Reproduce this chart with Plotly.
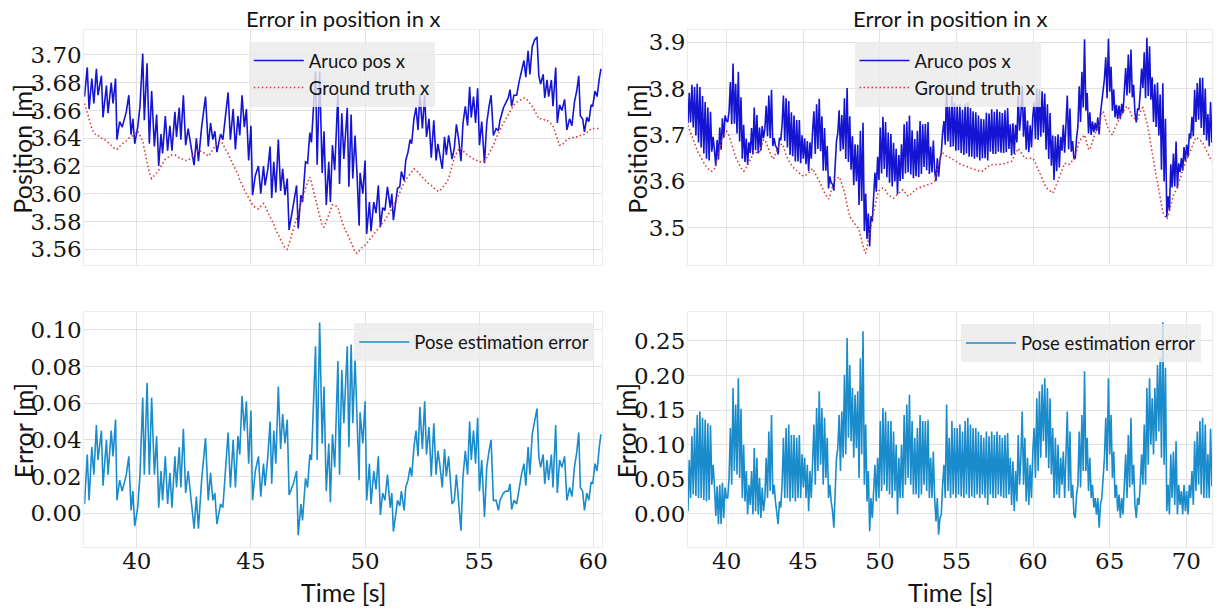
import plotly.graph_objects as go

# ---------------- Run 1 (left column) ----------------
time_left = [
    37.71, 37.83, 37.91, 38.03, 38.12, 38.23, 38.30, 38.45, 38.52, 38.67,
    38.74, 38.88, 38.96, 39.07, 39.13, 39.25, 39.36, 39.54, 39.65, 39.75,
    39.83, 39.91, 40.04, 40.14, 40.26, 40.33, 40.45, 40.55, 40.65, 40.77,
    40.87, 40.96, 41.06, 41.13, 41.25, 41.35, 41.45, 41.54, 41.67, 41.74,
    41.86, 41.93, 42.04, 42.14, 42.25, 42.36, 42.51, 42.61, 42.70, 42.84,
    43.01, 43.13, 43.23, 43.33, 43.42, 43.51, 43.67, 43.77, 43.88, 44.00,
    44.10, 44.22, 44.32, 44.43, 44.51, 44.61, 44.71, 44.80, 44.90, 45.00,
    45.07, 45.19, 45.33, 45.43, 45.55, 45.62, 45.74, 45.84, 45.91, 46.00,
    46.09, 46.20, 46.30, 46.39, 46.49, 46.59, 46.67, 46.86, 47.00, 47.07,
    47.19, 47.26, 47.39, 47.48, 47.58, 47.65, 47.83, 47.90, 48.01, 48.12,
    48.20, 48.30, 48.41, 48.48, 48.57, 48.67, 48.81, 48.88, 48.98, 49.07,
    49.22, 49.29, 49.39, 49.46, 49.56, 49.65, 49.74, 49.78, 49.90, 50.00,
    50.07, 50.19, 50.26, 50.38, 50.48, 50.58, 50.67, 50.77, 50.87, 50.98,
    51.10, 51.17, 51.24, 51.35, 51.42, 51.52, 51.59, 51.71, 51.78, 51.88,
    51.97, 52.04, 52.14, 52.23, 52.32, 52.40, 52.51, 52.61, 52.69, 52.80,
    52.90, 53.01, 53.11, 53.19, 53.27, 53.38, 53.48, 53.56, 53.66, 53.81,
    53.91, 54.00, 54.10, 54.20, 54.29, 54.39, 54.49, 54.58, 54.65, 54.75,
    54.84, 54.93, 55.01, 55.11, 55.23, 55.33, 55.43, 55.52, 55.62, 55.74,
    55.84, 55.91, 56.06, 56.17, 56.27, 56.35, 56.42, 56.52, 56.64, 56.75,
    56.85, 56.96, 57.04, 57.14, 57.22, 57.32, 57.43, 57.53, 57.61, 57.69,
    57.80, 57.87, 57.97, 58.04, 58.16, 58.23, 58.35, 58.42, 58.52, 58.62,
    58.74, 58.84, 58.96, 59.06, 59.17, 59.27, 59.36, 59.43, 59.53, 59.61,
    59.71, 59.80, 59.90, 59.97, 60.07, 60.16, 60.26, 60.33,
]

error_left = [
    0.005, 0.032, 0.007, 0.036, 0.021, 0.048, 0.029, 0.045, 0.015, 0.040,
    0.021, 0.045, 0.031, 0.051, 0.007, 0.018, 0.012, 0.021, 0.031, 0.0015,
    0.012, -0.007, 0.003, 0.021, 0.063, 0.021, 0.071, 0.021, 0.063, 0.021,
    0.042, 0.003, 0.023, 0.007, 0.031, 0.005, 0.022, 0.003, 0.031, 0.014,
    0.036, 0.014, 0.046, 0.011, 0.023, 0.011, -0.0085, 0.009, -0.0085, 0.018,
    0.041, 0.007, 0.022, 0.007, 0.011, -0.006, 0.005, 0.003, 0.023, 0.044,
    0.014, 0.040, 0.014, 0.042, 0.032, 0.064, 0.045, 0.061, 0.027, 0.056,
    0.007, 0.023, 0.031, 0.009, 0.027, 0.015, 0.031, 0.050, 0.016, 0.045,
    0.027, 0.069, 0.035, 0.054, 0.038, 0.051, 0.010, 0.016, 0.023, -0.012,
    0.005, -0.004, 0.019, 0.014, 0.032, 0.029, 0.091, 0.029, 0.104, 0.038,
    0.069, 0.012, 0.038, 0.006, 0.043, 0.025, 0.083, 0.021, 0.078, 0.049,
    0.091, 0.036, 0.092, 0.049, 0.084, 0.056, 0.018, 0.055, 0.038, 0.061,
    0.007, 0.027, 0.005, 0.023, 0.013, 0.031, -0.001, 0.011, 0.007, 0.021,
    0.003, 0.011, -0.010, 0.000, 0.007, 0.004, 0.012, 0.0015, 0.014, 0.018,
    0.025, 0.020, 0.036, 0.045, 0.031, 0.058, 0.035, 0.061, 0.032, 0.047,
    0.020, 0.049, 0.021, 0.034, 0.027, 0.014, 0.035, 0.020, 0.031, 0.005,
    0.007, 0.021, 0.007, -0.0095, 0.020, 0.034, 0.021, 0.050, 0.029, 0.045,
    0.027, 0.052, 0.012, 0.029, -0.002, 0.025, 0.034, 0.040, 0.007, 0.007,
    0.0015, 0.007, 0.011, 0.012, 0.012, 0.016, 0.002, 0.007, 0.005, 0.014,
    0.021, 0.027, 0.015, 0.036, 0.021, 0.043, 0.051, 0.057, 0.031, 0.025,
    0.032, 0.016, 0.029, 0.018, 0.032, 0.014, 0.048, 0.011, 0.029, 0.025,
    0.031, 0.007, 0.014, 0.009, 0.025, 0.033, 0.044, 0.014, 0.012, 0.0015,
    0.011, 0.007, 0.017, 0.016, 0.027, 0.023, 0.036, 0.043,
]

truth_left = [
    3.665, 3.659, 3.654, 3.647, 3.644, 3.642, 3.642, 3.640, 3.640, 3.638,
    3.637, 3.635, 3.634, 3.632, 3.632, 3.634, 3.636, 3.638, 3.640, 3.641,
    3.642, 3.643, 3.645, 3.642, 3.638, 3.632, 3.623, 3.615, 3.611, 3.613,
    3.615, 3.617, 3.620, 3.622, 3.625, 3.626, 3.627, 3.628, 3.628, 3.627,
    3.626, 3.625, 3.625, 3.624, 3.624, 3.626, 3.629, 3.631, 3.632, 3.630,
    3.629, 3.627, 3.629, 3.632, 3.634, 3.636, 3.638, 3.636, 3.632, 3.629,
    3.625, 3.621, 3.618, 3.614, 3.610, 3.607, 3.603, 3.600, 3.597, 3.593,
    3.592, 3.590, 3.589, 3.591, 3.593, 3.591, 3.587, 3.584, 3.581, 3.578,
    3.574, 3.570, 3.567, 3.564, 3.561, 3.560, 3.564, 3.575, 3.583, 3.587,
    3.594, 3.598, 3.604, 3.608, 3.612, 3.608, 3.597, 3.592, 3.584, 3.577,
    3.576, 3.580, 3.585, 3.588, 3.592, 3.592, 3.590, 3.586, 3.580, 3.576,
    3.571, 3.569, 3.565, 3.562, 3.558, 3.557, 3.559, 3.560, 3.562, 3.563,
    3.564, 3.567, 3.568, 3.571, 3.573, 3.575, 3.577, 3.579, 3.581, 3.584,
    3.587, 3.589, 3.591, 3.595, 3.597, 3.601, 3.604, 3.608, 3.610, 3.612,
    3.614, 3.616, 3.618, 3.617, 3.615, 3.614, 3.612, 3.610, 3.609, 3.607,
    3.606, 3.604, 3.603, 3.602, 3.602, 3.604, 3.606, 3.608, 3.611, 3.620,
    3.626, 3.629, 3.632, 3.633, 3.631, 3.629, 3.628, 3.627, 3.626, 3.625,
    3.624, 3.624, 3.623, 3.623, 3.624, 3.626, 3.629, 3.631, 3.635, 3.640,
    3.644, 3.646, 3.651, 3.654, 3.657, 3.659, 3.661, 3.664, 3.666, 3.667,
    3.668, 3.669, 3.669, 3.667, 3.665, 3.663, 3.660, 3.656, 3.654, 3.654,
    3.654, 3.653, 3.653, 3.652, 3.650, 3.649, 3.643, 3.640, 3.635, 3.635,
    3.637, 3.639, 3.640, 3.640, 3.641, 3.641, 3.641, 3.642, 3.642, 3.643,
    3.644, 3.645, 3.647, 3.647, 3.647, 3.647, 3.647, 3.647,
]

# ---------------- Run 2 (right column), fixed sample rate ----------------
right_start = 37.47     # s
right_step = 0.08658    # s between samples

error_right = [
    0.004, 0.078, 0.023, 0.112, 0.028, 0.124, 0.026, 0.143, 0.023, 0.148,
    0.023, 0.139, 0.020, 0.136, 0.018, 0.131, 0.020, 0.128, 0.042, 0.071,
    0.040, -0.003, 0.040, -0.015, 0.042, -0.015, 0.045, -0.006, 0.038, 0.023,
    0.023, 0.052, 0.124, 0.042, 0.182, 0.062, 0.158, 0.057, 0.196, 0.052,
    0.152, 0.023, 0.100, 0.018, 0.062, -0.001, 0.042, 0.013, 0.062, -0.001,
    0.095, 0.004, 0.081, -0.001, 0.052, -0.006, 0.038, 0.004, 0.023, 0.081,
    0.023, 0.119, 0.033, 0.143, 0.028, 0.042, 0.018, 0.004, -0.015, 0.018,
    0.009, 0.042, 0.110, 0.023, 0.124, 0.023, 0.129, 0.018, 0.114, 0.023,
    0.114, 0.018, 0.110, 0.023, 0.114, 0.023, 0.086, 0.038, 0.081, 0.023,
    0.071, 0.004, 0.062, 0.023, 0.081, 0.129, 0.042, 0.153, 0.062, 0.177,
    0.071, 0.153, 0.042, 0.139, 0.052, 0.110, 0.023, 0.042, 0.018, 0.004,
    -0.020, 0.042, 0.081, 0.095, 0.143, 0.062, 0.148, 0.081, 0.201, 0.086,
    0.254, 0.110, 0.215, 0.105, 0.182, 0.081, 0.172, 0.095, 0.177, 0.052,
    0.225, 0.086, 0.264, 0.042, 0.129, 0.018, 0.062, -0.025, 0.023, -0.006,
    0.042, 0.071, 0.018, 0.081, 0.023, 0.134, 0.033, 0.153, 0.042, 0.148,
    0.033, 0.134, 0.028, 0.134, 0.023, 0.119, 0.033, 0.100, -0.001, 0.081,
    0.023, 0.100, 0.023, 0.143, 0.042, 0.158, 0.052, 0.172, 0.042, 0.134,
    0.028, 0.110, 0.028, 0.124, 0.023, 0.143, 0.028, 0.134, 0.042, 0.134,
    0.033, 0.136, 0.023, 0.081, 0.023, 0.090, 0.023, -0.011, 0.023, -0.030,
    -0.006, -0.001, 0.042, 0.071, 0.023, 0.158, 0.033, 0.110,
    0.023, 0.134, 0.028, 0.124, 0.023, 0.124, 0.028, 0.129, 0.025, 0.119,
    0.023, 0.134, 0.028, 0.139, 0.023, 0.129, 0.025, 0.124, 0.023, 0.124,
    0.028, 0.119, 0.023, 0.114, 0.028, 0.110, 0.023, 0.119, 0.013, 0.112,
    0.028, 0.119, 0.023, 0.114, 0.023, 0.119, 0.028, 0.114, 0.025, 0.110,
    0.023, 0.114, 0.023, 0.117, 0.028, 0.081, 0.013, 0.076, 0.004, 0.062,
    0.018, 0.114, 0.042, 0.081, 0.148, 0.042, 0.110, 0.018, 0.081, 0.013,
    0.071, 0.023, 0.090, 0.124, 0.052, 0.167, 0.062, 0.177, 0.081, 0.187,
    0.105, 0.196, 0.081, 0.182, 0.066, 0.167, 0.057, 0.124, 0.023, 0.110,
    0.028, 0.100, 0.023, 0.081, 0.042, 0.090, 0.023, 0.086, 0.148, 0.033,
    0.119, 0.023, 0.042, -0.001, -0.006, 0.028, 0.042, 0.119, 0.038, 0.143,
    0.062, 0.206, 0.062, 0.110, 0.033, 0.081, 0.023, 0.042, 0.009, 0.023,
    -0.001, 0.023, -0.020, 0.013, 0.023, 0.052, 0.081, 0.139, 0.062, 0.196,
    0.086, 0.143, 0.052, 0.090, 0.023, 0.042, 0.004, 0.028, -0.006, 0.023,
    -0.001, 0.042, 0.086, 0.023, 0.114, 0.038, 0.139, 0.042, 0.071, 0.013,
    -0.006, 0.023, 0.013, 0.042, 0.086, 0.042, 0.129, 0.042, 0.182, 0.071,
    0.196, 0.100, 0.167, 0.086, 0.182, 0.105, 0.215, 0.119, 0.225, 0.081,
    0.277, 0.071, 0.211, 0.004, 0.042, -0.001, 0.086, 0.023, 0.090, 0.013,
    0.105, -0.001, 0.042, 0.013, 0.033, -0.001, 0.042, 0.004, 0.033, -0.001,
    0.042, 0.023, 0.062, 0.013, 0.105, 0.033, 0.119, 0.042, 0.134, 0.028,
    0.139, 0.023, 0.129, 0.023, 0.086, 0.023, 0.123, 0.040,
]

truth_right = [
    3.721, 3.713, 3.704, 3.696, 3.688, 3.679, 3.673, 3.667, 3.661, 3.655,
    3.650, 3.645, 3.640, 3.635, 3.631, 3.628, 3.625, 3.622, 3.622, 3.625,
    3.627, 3.636, 3.649, 3.662, 3.674, 3.683, 3.691, 3.700, 3.704, 3.708,
    3.705, 3.698, 3.690, 3.681, 3.672, 3.662, 3.652, 3.646, 3.640, 3.634,
    3.629, 3.626, 3.622, 3.624, 3.630, 3.637, 3.642, 3.648, 3.653, 3.659,
    3.664, 3.663, 3.662, 3.661, 3.664, 3.672, 3.681, 3.689, 3.690, 3.682,
    3.674, 3.666, 3.660, 3.654, 3.648, 3.651, 3.659, 3.668, 3.673, 3.676,
    3.679, 3.681, 3.675, 3.664, 3.655, 3.650, 3.644, 3.639, 3.635, 3.631,
    3.628, 3.625, 3.622, 3.620, 3.618, 3.616, 3.613, 3.611, 3.612, 3.614,
    3.616, 3.618, 3.622, 3.626, 3.628, 3.622, 3.617, 3.613, 3.608, 3.601,
    3.594, 3.587, 3.581, 3.576, 3.571, 3.566, 3.562, 3.569, 3.579, 3.590,
    3.600, 3.603, 3.606, 3.609, 3.610, 3.603, 3.595, 3.588, 3.578, 3.562,
    3.547, 3.532, 3.525, 3.520, 3.515, 3.511, 3.508, 3.505, 3.502, 3.497,
    3.484, 3.472, 3.462, 3.451, 3.445, 3.458, 3.469, 3.485, 3.502, 3.520,
    3.536, 3.548, 3.560, 3.572, 3.580, 3.582, 3.584, 3.586, 3.585, 3.580,
    3.576, 3.571, 3.569, 3.568, 3.566, 3.564, 3.567, 3.570, 3.573, 3.576,
    3.578, 3.580, 3.582, 3.580, 3.575, 3.571, 3.568, 3.570, 3.573, 3.576,
    3.579, 3.581, 3.583, 3.585, 3.586, 3.587, 3.588, 3.589, 3.589, 3.590,
    3.591, 3.592, 3.593, 3.594, 3.596, 3.598, 3.600, 3.612, 3.627, 3.640,
    3.652, 3.663, 3.662, 3.659, 3.656, 3.654, 3.653, 3.652, 3.651, 3.650,
    3.647, 3.645, 3.643, 3.641, 3.639, 3.637, 3.636, 3.635, 3.634, 3.633,
    3.632, 3.631, 3.630, 3.629, 3.628, 3.627, 3.626, 3.625, 3.624, 3.623,
    3.622, 3.621, 3.622, 3.624, 3.627, 3.629, 3.632, 3.634, 3.636, 3.636,
    3.636, 3.636, 3.636, 3.636, 3.636, 3.636, 3.637, 3.637, 3.638, 3.639,
    3.640, 3.641, 3.642, 3.642, 3.643, 3.649, 3.655, 3.660, 3.666, 3.671,
    3.667, 3.662, 3.658, 3.654, 3.650, 3.650, 3.650, 3.650, 3.650, 3.650,
    3.650, 3.645, 3.639, 3.633, 3.627, 3.621, 3.615, 3.607, 3.600, 3.593,
    3.587, 3.584, 3.582, 3.580, 3.577, 3.575, 3.580, 3.587, 3.594, 3.601,
    3.607, 3.615, 3.624, 3.632, 3.639, 3.638, 3.637, 3.636, 3.638, 3.641,
    3.645, 3.649, 3.656, 3.666, 3.676, 3.686, 3.690, 3.693, 3.697, 3.700,
    3.690, 3.680, 3.670, 3.668, 3.677, 3.687, 3.697, 3.703, 3.709, 3.715,
    3.721, 3.733, 3.747, 3.751, 3.740, 3.728, 3.717, 3.711, 3.707, 3.704,
    3.700, 3.708, 3.715, 3.723, 3.730, 3.735, 3.740, 3.744, 3.748, 3.753,
    3.758, 3.762, 3.759, 3.752, 3.745, 3.739, 3.737, 3.735, 3.733, 3.734,
    3.741, 3.749, 3.757, 3.759, 3.749, 3.737, 3.727, 3.713, 3.695, 3.676,
    3.657, 3.642, 3.627, 3.612, 3.598, 3.580, 3.562, 3.544, 3.534, 3.529,
    3.524, 3.519, 3.526, 3.538, 3.551, 3.564, 3.570, 3.576, 3.581, 3.587,
    3.597, 3.607, 3.617, 3.624, 3.632, 3.639, 3.646, 3.654, 3.661, 3.669,
    3.677, 3.684, 3.692, 3.695, 3.693, 3.691, 3.689, 3.687, 3.684, 3.677,
    3.671, 3.665, 3.659, 3.653, 3.648, 3.643,
]

# Marker estimate = ground truth + pose estimation error
aruco_left = [g + e for g, e in zip(truth_left, error_left)]
aruco_right = [g + e for g, e in zip(truth_right, error_right)]

# ---------------- styling ----------------
W, H = 1230, 610
BLUE = "#1414d2"
RED = "#d83a3a"
CYAN = "#1a8ccb"
SANS = "Lato"
SERIF = "DejaVu Serif"
INK = "#141414"


def fx(p):
    return p / W


def fy(p):
    return 1 - p / H


fig = go.Figure()

fig.add_trace(go.Scatter(x=time_left, y=aruco_left, mode="lines", name="Aruco pos x",
                         line=dict(color=BLUE, width=1.6), xaxis="x", yaxis="y", legend="legend"))
fig.add_trace(go.Scatter(x=time_left, y=truth_left, mode="lines", name="Ground truth x",
                         line=dict(color=RED, width=1.6, dash="1.5px,2.5px"),
                         xaxis="x", yaxis="y", legend="legend"))
fig.add_trace(go.Scatter(x0=right_start, dx=right_step, y=aruco_right, mode="lines", name="Aruco pos x",
                         line=dict(color=BLUE, width=1.6), xaxis="x2", yaxis="y2", legend="legend2"))
fig.add_trace(go.Scatter(x0=right_start, dx=right_step, y=truth_right, mode="lines", name="Ground truth x",
                         line=dict(color=RED, width=1.6, dash="1.5px,2.5px"),
                         xaxis="x2", yaxis="y2", legend="legend2"))
fig.add_trace(go.Scatter(x=time_left, y=error_left, mode="lines", name="Pose estimation error",
                         line=dict(color=CYAN, width=1.6), xaxis="x3", yaxis="y3", legend="legend3"))
fig.add_trace(go.Scatter(x0=right_start, dx=right_step, y=error_right, mode="lines",
                         name="Pose estimation error",
                         line=dict(color=CYAN, width=1.6), xaxis="x4", yaxis="y4", legend="legend4"))


def axis(**kw):
    base = dict(
        showgrid=True, gridcolor="#e2e2e2", gridwidth=1, zeroline=False,
        showline=True, linecolor="#ececec", linewidth=1, mirror=True, ticks="",
        tickfont=dict(family=SERIF, size=23, color=INK),
    )
    base.update(kw)
    return base


col1 = [fx(84.7), fx(605)]
col2 = [fx(691.3), fx(1218.3)]
row1 = [fy(264), fy(29)]
row2 = [fy(547), fy(311.7)]

legend_common = dict(
    bgcolor="rgba(234,234,234,0.82)", borderwidth=0,
    font=dict(family=SANS, size=18.5, color=INK),
    xanchor="left", yanchor="top", tracegroupgap=0, itemwidth=50,
)

fig.update_layout(
    width=W, height=H, autosize=False,
    margin=dict(l=0, r=0, t=0, b=0),
    paper_bgcolor="white", plot_bgcolor="white",
    xaxis=axis(domain=col1, anchor="y", range=[37.70, 60.38], dtick=5, tick0=40,
               showticklabels=False, matches="x3"),
    yaxis=axis(domain=row1, anchor="x", range=[3.549, 3.718], dtick=0.02, tick0=3.56,
               tickformat=".2f", ticklabelstandoff=-3),
    xaxis2=axis(domain=col2, anchor="y2", range=[37.47, 71.70], dtick=5, tick0=40,
                showticklabels=False, matches="x4"),
    yaxis2=axis(domain=row1, anchor="x2", range=[3.421, 3.926], dtick=0.1, tick0=3.5,
                tickformat=".1f", ticklabelstandoff=-3),
    xaxis3=axis(domain=col1, anchor="y3", range=[37.70, 60.38], dtick=5, tick0=40,
                ticklabelstandoff=-7),
    yaxis3=axis(domain=row2, anchor="x3", range=[-0.0185, 0.1096], dtick=0.02, tick0=0,
                tickformat=".2f", ticklabelstandoff=-3),
    xaxis4=axis(domain=col2, anchor="y4", range=[37.47, 71.70], dtick=5, tick0=40,
                ticklabelstandoff=-7),
    yaxis4=axis(domain=row2, anchor="x4", range=[-0.048, 0.2914], dtick=0.05, tick0=0,
                tickformat=".2f", ticklabelstandoff=-3),
    legend=dict(x=fx(250), y=fy(41), **legend_common),
    legend2=dict(x=fx(858.7), y=fy(41), **legend_common),
    legend3=dict(x=fx(356), y=fy(323), **legend_common),
    legend4=dict(x=fx(965.7), y=fy(324), **legend_common),
)

title_font = dict(family=SANS, size=22, color=INK)
label_font = dict(family=SANS, size=25, color=INK)
annotations = [
    dict(text="Error in position in x", x=fx(345), y=fy(18), font=title_font),
    dict(text="Error in position in x", x=fx(955), y=fy(18), font=title_font),
    dict(text="Position [m]", x=fx(22), y=fy(148), font=label_font, textangle=-90),
    dict(text="Position [m]", x=fx(640), y=fy(148), font=label_font, textangle=-90),
    dict(text="Error [m]", x=fx(23), y=fy(430), font=label_font, textangle=-90),
    dict(text="Error [m]", x=fx(629), y=fy(430), font=label_font, textangle=-90),
    dict(text="Time [s]", x=fx(345), y=fy(592), font=label_font),
    dict(text="Time [s]", x=fx(955), y=fy(592), font=label_font),
]
for a in annotations:
    a.update(xref="paper", yref="paper", xanchor="center", yanchor="middle", showarrow=False)
fig.update_layout(annotations=annotations)

fig.write_html("out.html")
